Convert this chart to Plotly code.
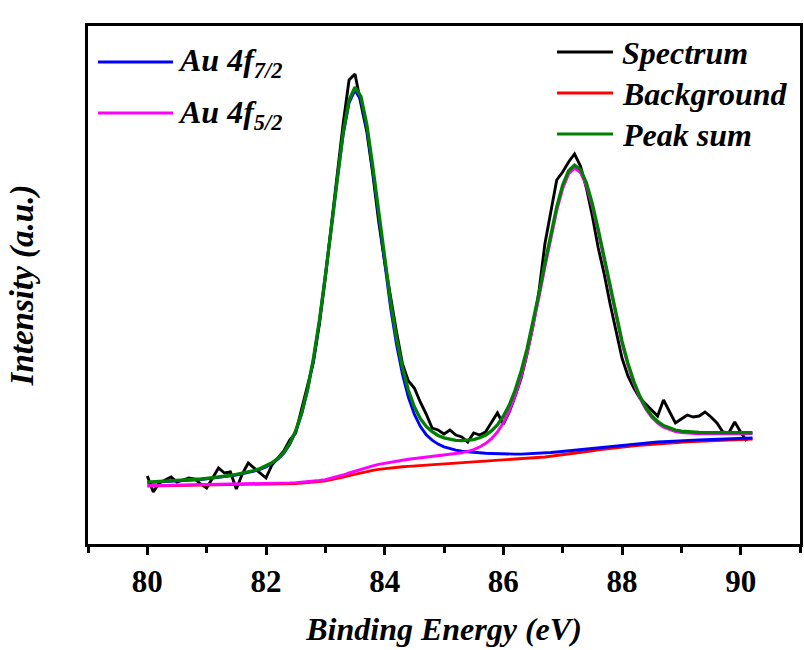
import plotly.graph_objects as go

# Binding energy grid (eV)
energy = [80.0, 80.1, 80.2, 80.3, 80.4, 80.5, 80.6, 80.7, 80.8, 80.9,
          81.0, 81.1, 81.2, 81.3, 81.4, 81.5, 81.6, 81.7, 81.8, 81.9,
          82.0, 82.1, 82.2, 82.3, 82.4, 82.5, 82.6, 82.7, 82.8, 82.9,
          83.0, 83.1, 83.2, 83.3, 83.4, 83.5, 83.6, 83.7, 83.8, 83.9,
          84.0, 84.1, 84.2, 84.3, 84.4, 84.5, 84.6, 84.7, 84.8, 84.9,
          85.0, 85.1, 85.2, 85.3, 85.4, 85.5, 85.6, 85.7, 85.8, 85.9,
          86.0, 86.1, 86.2, 86.3, 86.4, 86.5, 86.6, 86.7, 86.8, 86.9,
          87.0, 87.1, 87.2, 87.3, 87.4, 87.5, 87.6, 87.7, 87.8, 87.9,
          88.0, 88.1, 88.2, 88.3, 88.4, 88.5, 88.6, 88.7, 88.8, 88.9,
          89.0, 89.1, 89.2, 89.3, 89.4, 89.5, 89.6, 89.7, 89.8, 89.9,
          90.0, 90.1, 90.2]

# Measured spectrum (80.0 - 90.1 eV)
spectrum = [68, 52, 61, 64, 67, 62, 64, 66, 65, 60,
            56, 66, 76, 71, 72, 55, 70, 81, 76, 71,
            66, 79, 86, 93, 104, 111, 135, 160, 182, 220,
            266, 318, 372, 420, 464, 470, 440, 412, 370, 322,
            282, 246, 212, 180, 163, 156, 142, 130, 116, 114,
            110, 114, 109, 107, 102, 111, 109, 112, 121, 131,
            120, 132, 148, 166, 190, 218, 252, 300, 332, 364,
            372, 382, 390, 378, 356, 328, 296, 270, 240, 212,
            186, 168, 156, 146, 140, 134, 128, 144, 132, 121,
            125, 129, 127, 128, 132, 127, 121, 112, 111, 122,
            112, 103]

background = [58.0, 58.1, 58.1, 58.2, 58.2, 58.3, 58.4, 58.4, 58.5, 58.5,
              58.6, 58.7, 58.8, 58.8, 58.9, 59.0, 59.1, 59.2, 59.3, 59.4,
              59.5, 59.7, 59.8, 60.0, 60.2, 60.5, 60.9, 61.3, 61.9, 62.5,
              63.3, 64.3, 65.5, 66.8, 68.3, 69.8, 71.2, 72.5, 73.6, 74.6,
              75.4, 76.1, 76.7, 77.2, 77.6, 78.0, 78.3, 78.6, 78.9, 79.2,
              79.5, 79.9, 80.3, 80.7, 81.1, 81.5, 81.9, 82.3, 82.7, 83.1,
              83.5, 83.9, 84.3, 84.8, 85.3, 85.8, 86.4, 87.0, 87.7, 88.4,
              89.2, 90.0, 90.8, 91.7, 92.5, 93.3, 94.1, 94.9, 95.6, 96.3,
              97.0, 97.6, 98.2, 98.8, 99.3, 99.8, 100.3, 100.7, 101.1, 101.5,
              101.9, 102.2, 102.5, 102.8, 103.1, 103.4, 103.7, 104.0, 104.2, 104.4,
              104.6, 104.8, 105.0]

au_4f72 = [61.4, 61.7, 61.9, 62.3, 62.5, 62.8, 63.2, 63.5, 64.1, 64.5,
           65.2, 65.8, 66.6, 67.2, 68.1, 69.0, 70.1, 71.3, 72.8, 74.7,
           77.1, 80.4, 84.8, 90.7, 99.6, 112.3, 130.0, 153.8, 184.8, 222.6,
           266.8, 315.4, 365.0, 409.3, 441.2, 453.8, 444.1, 415.0, 373.1, 325.7,
           278.9, 236.2, 199.6, 169.7, 146.7, 129.8, 117.7, 109.3, 103.9, 99.9,
           97.1, 95.2, 93.8, 92.8, 92.1, 91.5, 91.1, 90.7, 90.5, 90.2,
           90.1, 89.9, 89.9, 89.9, 90.1, 90.3, 90.7, 91.1, 91.5, 92.0,
           92.6, 93.2, 93.9, 94.6, 95.3, 95.9, 96.6, 97.3, 97.9, 98.5,
           99.1, 99.6, 100.1, 100.7, 101.1, 101.5, 102.0, 102.3, 102.7, 103.0,
           103.3, 103.6, 103.8, 104.1, 104.3, 104.6, 104.8, 105.1, 105.3, 105.4,
           105.6, 105.8, 106.0]

au_4f52 = [58.4, 58.5, 58.5, 58.7, 58.7, 58.8, 58.9, 58.9, 59.0, 59.0,
           59.1, 59.2, 59.4, 59.4, 59.5, 59.6, 59.8, 59.9, 60.0, 60.1,
           60.3, 60.5, 60.6, 60.8, 61.1, 61.4, 61.8, 62.3, 62.9, 63.5,
           64.4, 65.7, 67.3, 69.0, 71.0, 72.9, 74.8, 76.6, 78.1, 79.6,
           80.8, 81.9, 82.9, 83.8, 84.7, 85.4, 86.1, 86.8, 87.3, 87.8,
           88.5, 89.3, 90.2, 91.3, 92.6, 94.4, 97.0, 100.4, 105.3, 112.0,
           121.1, 133.0, 148.4, 167.7, 190.6, 217.1, 246.2, 276.5, 306.4, 333.4,
           355.5, 370.1, 375.7, 371.6, 358.4, 337.7, 311.9, 283.4, 254.2, 226.2,
           200.8, 178.8, 160.5, 146.0, 134.9, 126.7, 120.9, 116.8, 114.2, 112.4,
           111.4, 110.8, 110.4, 110.2, 110.1, 110.0, 110.1, 110.2, 110.2, 110.2,
           110.3, 110.3, 110.4]

peak_sum = [61.8, 62.1, 62.3, 62.8, 63.0, 63.3, 63.7, 64.0, 64.6, 65.0,
            65.7, 66.3, 67.2, 67.8, 68.7, 69.6, 70.8, 72.0, 73.5, 75.4,
            77.9, 81.2, 85.6, 91.5, 100.5, 113.2, 130.9, 154.8, 185.8, 223.6,
            267.9, 316.8, 366.8, 411.5, 443.9, 456.9, 447.7, 419.1, 377.6, 330.7,
            284.3, 242.0, 205.8, 176.3, 153.8, 137.2, 125.5, 117.5, 112.3, 108.5,
            106.1, 104.6, 103.7, 103.4, 103.6, 104.4, 106.2, 108.8, 113.1, 119.1,
            127.7, 139.0, 154.0, 172.8, 195.4, 221.6, 250.5, 280.6, 310.2, 337.0,
            358.9, 373.3, 378.8, 374.5, 361.2, 340.3, 314.4, 285.8, 256.5, 228.4,
            202.9, 180.8, 162.4, 147.9, 136.7, 128.4, 122.6, 118.4, 115.8, 113.9,
            112.8, 112.2, 111.7, 111.5, 111.3, 111.2, 111.2, 111.3, 111.3, 111.2,
            111.3, 111.3, 111.4]

x_ticks = [80, 82, 84, 86, 88, 90]

# legend entries: (label, colour), two legend groups
legend_left = [("Au 4f<sub>7/2</sub>", "#0000FF"), ("Au 4f<sub>5/2</sub>", "#FF00FF")]
legend_right = [("Spectrum", "#000000"), ("Background", "#FF0000"), ("Peak sum", "#008000")]

FONT = '"Liberation Serif", "Times New Roman", Times, serif'
LW = 2.9

fig = go.Figure()
fig.add_trace(go.Scatter(x=energy[:len(spectrum)], y=spectrum, mode="lines",
                         name="Spectrum", line=dict(color="#000000", width=LW)))
fig.add_trace(go.Scatter(x=energy, y=background, mode="lines",
                         name="Background", line=dict(color="#FF0000", width=LW)))
fig.add_trace(go.Scatter(x=energy, y=au_4f72, mode="lines",
                         name="Au 4f<sub>7/2</sub>", line=dict(color="#0000FF", width=LW)))
fig.add_trace(go.Scatter(x=energy, y=au_4f52, mode="lines",
                         name="Au 4f<sub>5/2</sub>", line=dict(color="#FF00FF", width=LW)))
fig.add_trace(go.Scatter(x=energy, y=peak_sum, mode="lines",
                         name="Peak sum", line=dict(color="#008000", width=3.3)))

# Plot-area geometry in pixels (for placing the legend keys)
W, H = 804, 650
ML, MR, MT, MB = 88, 4, 26, 106
PW, PH = W - ML - MR, H - MT - MB


def px_x(p):
    return (p - ML) / PW


def px_y(p):
    return (H - MB - p) / PH


legend_font = dict(family=FONT, size=32, color="black", weight="bold", style="italic")


def add_legend(entries, x0, x1, xt, y_first, dy):
    for i, (label, col) in enumerate(entries):
        yy = y_first + i * dy
        fig.add_shape(type="line", xref="paper", yref="paper",
                      x0=px_x(x0), x1=px_x(x1), y0=px_y(yy), y1=px_y(yy),
                      line=dict(color=col, width=3.2))
        fig.add_annotation(xref="paper", yref="paper", x=px_x(xt), y=px_y(yy + 1),
                           text=label, showarrow=False, xanchor="left",
                           yanchor="middle", font=legend_font)


add_legend(legend_left, 98, 173, 176, 62, 51)
add_legend(legend_right, 557, 613, 620, 52, 41)

fig.update_layout(
    width=W, height=H,
    margin=dict(l=ML, r=MR, t=MT, b=MB),
    paper_bgcolor="white", plot_bgcolor="white",
    font=dict(family=FONT, color="black"),
    showlegend=False,
)

fig.update_xaxes(
    range=[79, 91], tickvals=x_ticks, ticktext=[str(v) for v in x_ticks],
    ticks="outside", ticklen=8, tickwidth=2.5, tickcolor="black",
    showline=True, linewidth=2.5, linecolor="black", mirror=True,
    showgrid=False, zeroline=False, automargin=False,
    tickfont=dict(family=FONT, size=31, color="black", weight="bold"),
    ticklabelstandoff=0,
    minor=dict(dtick=1, tick0=79, ticks="outside", ticklen=6, tickwidth=2.5,
               tickcolor="black", showgrid=False),
    title=dict(text="Binding Energy (eV)", standoff=20,
               font=dict(family=FONT, size=32, color="black", weight="bold", style="italic")),
)
fig.update_yaxes(
    range=[0, 518], showticklabels=False, ticks="",
    showline=True, linewidth=2.5, linecolor="black", mirror=True,
    showgrid=False, zeroline=False, automargin=False,
    title=dict(text="Intensity (a.u.)", standoff=42,
               font=dict(family=FONT, size=33, color="black", weight="bold", style="italic")),
)

fig.write_html("out.html")
